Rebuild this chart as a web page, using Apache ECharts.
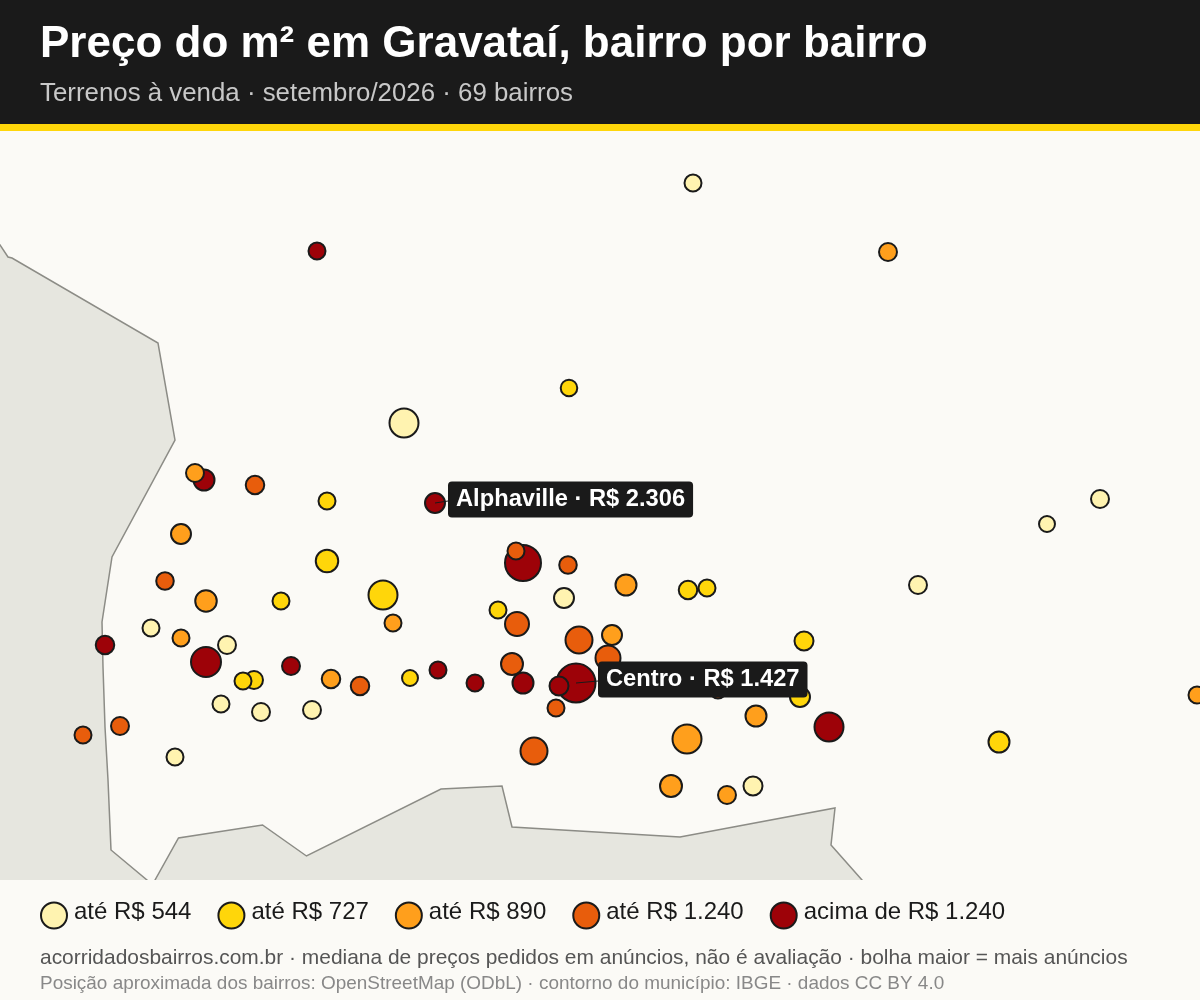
<!DOCTYPE html>
<html lang="pt-BR">
<head>
<meta charset="utf-8">
<title>Preço do m² em Gravataí</title>
<script src="https://cdn.jsdelivr.net/npm/echarts@6/dist/echarts.min.js"></script>
<style>html,body{margin:0;padding:0;background:#FCFBF7}#c{width:1200px;height:1000px}</style>
</head>
<body>
<div id="c"></div>
<script>
// Map units: x 0..1200 eastward, y 0..749 northward. n = number of listings (bubble area).
const classNames = ['até R$ 544','até R$ 727','até R$ 890','até R$ 1.240','acima de R$ 1.240'];
const classColors = ['#FFF3B0','#FFD60A','#FF9F1C','#E85D0C','#9D0208'];

const palePts = [[404,457],[564,282],[753,94],[1100,381],[918,295],[227,235],[261,168],[312,170],[693,697],[151,252],[221,176],[175,123],[1047,356]];
const paleN = [225,110,100,90,90,90,90,90,81,81,81,81,72];

const yellowPts = [[383,285],[327,319],[999,138],[800,183],[804,239],[688,290],[254,200],[327,379],[281,279],[707,292],[498,270],[243,199],[569,492],[410,202]];
const yellowN = [225,138,121,110,100,95,90,81,81,81,81,81,77,72];

const orangePts = [[687,141],[671,94],[206,279],[626,295],[756,164],[181,346],[612,245],[331,201],[888,628],[195,407],[727,85],[393,257],[181,242],[1197,185]];
const orangeN = [225,132,127,121,121,110,110,95,90,90,90,81,81,81];

const redOrangePts = [[579,240],[534,129],[608,222],[517,256],[512,216],[255,395],[360,194],[120,154],[165,299],[568,315],[83,145],[516,329],[556,172],[718,190]];
const redOrangeN = [196,196,169,156,132,95,95,90,86,86,81,81,81,81];

const redPts = [[576,197],[523,317],[206,218],[829,153],[204,400],[523,197],[435,377],[559,194],[105,235],[291,214],[317,629],[438,210],[475,197]];
const redN = [400,342,240,225,121,121,110,100,95,90,81,81,81];

const highlightNames = ['Alphaville','Centro'];
const highlightPrices = ['2.306','1.427'];
const highlightPts = [[435,377],[576,197]];
const highlightGaps = [13,22];

const regionWest = [[-10,650],[0,635],[8,623],[12,622],[158,537],[175,440],[112,323],[102,258],[103,213],[105,153],[108,100],[111,30],[147,0],[168,-20],[-10,-20]];
const regionSouth = [[144,-20],[155,0],[178.5,42],[262.5,55],[306.5,24],[441,91],[502,94],[512,53],[680,43],[835,72],[831,35],[862,0],[880,-20]];

const titleText = 'Preço do m² em Gravataí, bairro por bairro';
const subtitleText = 'Terrenos à venda · setembro/2026 · 69 bairros';
const footerText = 'acorridadosbairros.com.br · mediana de preços pedidos em anúncios, não é avaliação · bolha maior = mais anúncios';
const sourceText = 'Posição aproximada dos bairros: OpenStreetMap (ODbL) · contorno do município: IBGE · dados CC BY 4.0';

const FONT = '"Liberation Sans", Arial, sans-serif';
const INK = '#1A1A1A';

function bubbles(i, pts, counts, z) {
  return {
    type: 'scatter', name: classNames[i], z: z, clip: false, silent: true,
    data: pts.map((p, k) => [p[0], p[1], counts[k]]),
    symbolSize: v => 2 * Math.sqrt(v[2]) - 1,
    itemStyle: { color: classColors[i], opacity: 1, borderColor: INK, borderWidth: 2 }
  };
}

const chart = echarts.init(document.getElementById('c'));
chart.setOption({
  animation: false,
  backgroundColor: '#FBFAF6',
  graphic: [
    { type: 'rect', z: 0, shape: { x: 0, y: 0, width: 1200, height: 124 }, style: { fill: INK }, silent: true },
    { type: 'rect', z: 0, shape: { x: 0, y: 124, width: 1200, height: 7 }, style: { fill: '#FFD60A' }, silent: true }
  ],
  title: [
    { text: titleText, left: 40, top: 23, padding: 0, textStyle: { color: '#FFFFFF', fontFamily: FONT, fontWeight: 'bold', fontSize: 44 } },
    { text: subtitleText, left: 40, top: 81, padding: 0, textStyle: { color: '#C8C8C8', fontFamily: FONT, fontWeight: 'normal', fontSize: 25.85 } },
    { text: footerText, left: 40, top: 948, padding: 0, textStyle: { color: '#555555', fontFamily: FONT, fontWeight: 'normal', fontSize: 20.95 } },
    { text: sourceText, left: 40, top: 974, padding: 0, textStyle: { color: '#888888', fontFamily: FONT, fontWeight: 'normal', fontSize: 18.95 } }
  ],
  grid: { left: 0, top: 131, width: 1200, height: 749 },
  xAxis: { type: 'value', min: 0, max: 1200, show: false },
  yAxis: { type: 'value', min: 0, max: 749, show: false },
  legend: {
    left: 40, top: 900, padding: 0, itemGap: 26, itemWidth: 26, itemHeight: 26, selectedMode: false,
    data: classNames.map(n => ({ name: n, icon: 'circle' })),
    itemStyle: { borderColor: INK, borderWidth: 2 },
    formatter: n => '{t|' + n + '}',
    textStyle: {
      color: INK, fontFamily: FONT, fontSize: 24,
      rich: { t: { color: INK, fontFamily: FONT, fontSize: 24, padding: [0, 0, 7, 2] } }
    }
  },
  series: [
    {
      type: 'custom', name: 'Municípios vizinhos', z: 1, clip: true, silent: true,
      coordinateSystem: 'cartesian2d',
      data: [0, 1],
      renderItem: (params, api) => ({
        type: 'polygon',
        shape: { points: (params.dataIndex === 0 ? regionWest : regionSouth).map(p => api.coord(p)) },
        style: { fill: '#E6E6DF', stroke: '#8C8C86', lineWidth: 1.5 }
      })
    },
    bubbles(0, palePts, paleN, 7),
    bubbles(1, yellowPts, yellowN, 6),
    bubbles(2, orangePts, orangeN, 5),
    bubbles(3, redOrangePts, redOrangeN, 4),
    bubbles(4, redPts, redN, 3),
    {
      type: 'custom', name: 'Destaques', z: 10, clip: false, silent: true,
      coordinateSystem: 'cartesian2d',
      data: highlightPts.map((p, i) => [p[0], p[1], i]),
      renderItem: (params, api) => {
        const i = api.value(2);
        const c = api.coord([api.value(0), api.value(1)]);
        const gap = highlightGaps[i];
        return {
          type: 'group',
          children: [
            { type: 'line', shape: { x1: c[0], y1: c[1], x2: c[0] + gap, y2: c[1] - 2 }, style: { stroke: INK, lineWidth: 1 } },
            { type: 'text', x: c[0] + gap, y: c[1] - 3.5,
              style: {
                text: highlightNames[i] + ' · R$ ' + highlightPrices[i],
                fill: '#FFFFFF', font: 'bold 23.7px ' + FONT,
                backgroundColor: INK, borderRadius: 4, padding: [6, 8, 6, 8],
                align: 'left', verticalAlign: 'middle'
              } }
          ]
        };
      }
    }
  ]
});
</script>
</body>
</html>
